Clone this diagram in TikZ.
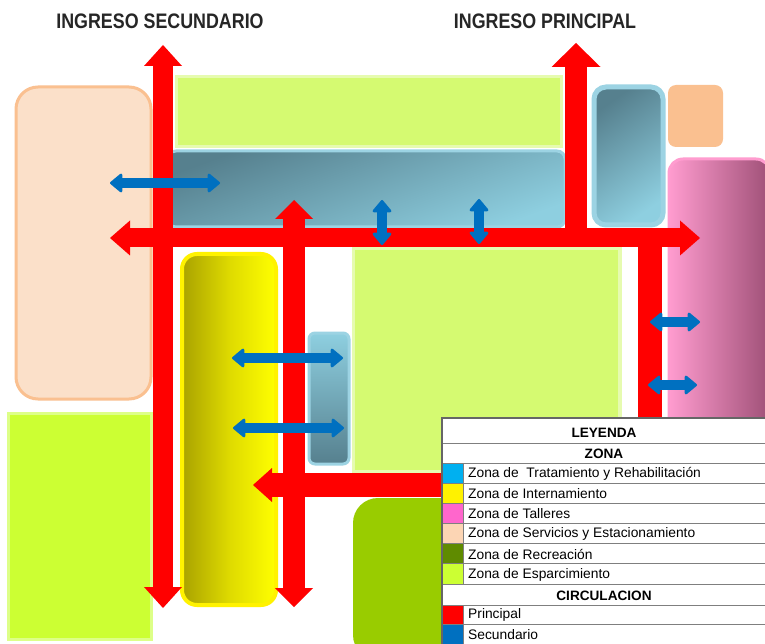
\documentclass[tikz,border=0pt]{standalone}
\usepackage{fontspec}
\setmainfont{Liberation Sans}
\usetikzlibrary{arrows.meta}
\definecolor{peachL}{HTML}{FBE0C9}
\definecolor{peachB}{HTML}{FAC090}
\definecolor{greenL}{HTML}{D5FA71}
\definecolor{greenLh}{HTML}{E6FBB0}
\definecolor{greenB}{HTML}{CCFF33}
\definecolor{greenBh}{HTML}{DDFF88}
\definecolor{greenR}{HTML}{99CC00}
\definecolor{blueDk}{HTML}{56808E}
\definecolor{blueLt}{HTML}{8ECFE0}
\definecolor{blueBd}{HTML}{9CD3E3}
\definecolor{olive}{HTML}{A9A200}
\definecolor{pinkL}{HTML}{FF9CCF}
\definecolor{pinkD}{HTML}{9F5077}
\definecolor{arrblue}{HTML}{0070C0}
\definecolor{lcyan}{HTML}{00B0F0}
\definecolor{lpink}{HTML}{FF66CC}
\definecolor{lpeach}{HTML}{FCD5B4}
\definecolor{ldkgreen}{HTML}{5F8B00}
\definecolor{titlec}{HTML}{262626}
\definecolor{lgray}{HTML}{7F7F7F}
\tikzset{
  title/.style={font=\fontsize{21}{21}\selectfont\bfseries, text=titlec, inner sep=0pt},
  redway/.style={draw=red, line width=20pt, line join=miter},
  barr/.style={draw=arrblue, line width=9.5pt,
     {Triangle[width=21pt,length=13pt,line width=2.5pt,round]}-{Triangle[width=21pt,length=13pt,line width=2.5pt,round]}},
  lhead/.style={font=\fontsize{13.6}{14}\selectfont\bfseries, inner sep=0pt},
  litem/.style={font=\fontsize{13.8}{14}\selectfont, anchor=west, inner sep=0pt},
  lline/.style={draw=lgray, line width=0.8pt},
}
\begin{document}
\begin{tikzpicture}[x=1pt,y=-1pt]
\useasboundingbox (0,0) rectangle (765,644);
\clip (0,0) rectangle (765,644);
\fill[white] (0,0) rectangle (765,644);

% titles
\node[title] (tsec) at (160,21) {\scalebox{0.85}[1]{INGRESO SECUNDARIO}};
\node[title] (tpri) at (545,21) {\scalebox{0.85}[1]{INGRESO PRINCIPAL}};

% esparcimiento zones (soft edges)
\fill[greenLh] (175,75) rectangle (563,148);
\fill[greenL] (178,78) rectangle (560,145);
\fill[greenLh] (352,247) rectangle (622,473);
\fill[greenL] (355,250) rectangle (618,470);
\fill[greenBh] (7,412) rectangle (153,641);
\fill[greenB] (10,415) rectangle (150,638);
% recreacion
\fill[greenR, rounded corners=25pt] (353,498) rectangle (470,660);

% servicios
\filldraw[fill=peachL, draw=peachB, line width=3pt, rounded corners=22pt] (16,87) rectangle (151,399);
\fill[peachB, rounded corners=8pt] (668,85) rectangle (723,147);

% tratamiento
\shadedraw[draw=blueBd, line width=3pt, rounded corners=8pt, top color=blueDk, bottom color=blueLt, shading angle=20] (168,151) rectangle (565,227);
\shadedraw[draw=blueBd, line width=5pt, rounded corners=12pt, top color=blueDk, bottom color=blueLt, shading angle=35] (594,87) rectangle (663,225);
\shadedraw[draw=blueBd, line width=3pt, rounded corners=6pt, top color=blueLt, bottom color=blueDk] (309,333) rectangle (349,464);

% internamiento
\shadedraw[draw=yellow, line width=4pt, rounded corners=15pt, left color=olive, right color=yellow, middle color={rgb,255:red,222;green,218;blue,0}] (182,254) rectangle (276,605);

% talleres
\shadedraw[draw=pinkL, line width=3pt, rounded corners=14pt, left color=pinkL, right color=pinkD] (669,159) rectangle (770,430);

% principal circulation
\coordinate (sTop) at (163,45);
\coordinate (sBot) at (163,608);
\coordinate (hL) at (110,238);
\coordinate (hR) at (700,238);
\coordinate (pTop) at (576,43);
\coordinate (pBase) at (576,238);
\coordinate (cTop) at (294,200);
\coordinate (cBot) at (294,607);
\coordinate (rTop) at (650,238);
\coordinate (rCorner) at (650,485);
\coordinate (rEnd) at (253,485);

\draw[redway, {Triangle[width=38pt,length=21pt,line width=0pt]}-{Triangle[width=38pt,length=21pt,line width=0pt]}] (sTop) -- (sBot);
\draw[redway, line width=19pt, {Triangle[width=35pt,length=20pt,line width=0pt]}-{Triangle[width=35pt,length=20pt,line width=0pt]}] (hL) -- (hR);
\draw[redway, line width=22pt, -{Triangle[width=49pt,length=24pt,line width=0pt]}] (pBase) -- (pTop);
\draw[redway, line width=22pt, {Triangle[width=38pt,length=19pt,line width=0pt]}-{Triangle[width=38pt,length=19pt,line width=0pt]}] (cTop) -- (cBot);
\draw[redway, line width=24pt, -{Triangle[width=34pt,length=19pt,line width=0pt]}] (rTop) -- (rCorner) -- (rEnd);

% secondary circulation
\coordinate (b1a) at (110,183); \coordinate (b1b) at (220,183);
\coordinate (b2a) at (382,200); \coordinate (b2b) at (382,245);
\coordinate (b3a) at (479,199); \coordinate (b3b) at (479,244);
\coordinate (b4a) at (650,322); \coordinate (b4b) at (700,322);
\coordinate (b5a) at (648,385); \coordinate (b5b) at (697,385);
\coordinate (b6a) at (232,358); \coordinate (b6b) at (343,358);
\coordinate (b7a) at (233,428); \coordinate (b7b) at (344,428);
\draw[barr] (b1a) -- (b1b);
\draw[barr] (b2a) -- (b2b);
\draw[barr] (b3a) -- (b3b);
\draw[barr] (b4a) -- (b4b);
\draw[barr] (b5a) -- (b5b);
\draw[barr] (b6a) -- (b6b);
\draw[barr] (b7a) -- (b7b);

% legend
\fill[white] (442,418) rectangle (770,650);
\fill[lcyan] (442,463) rectangle (463,483);
\fill[yellow] (442,483) rectangle (463,503);
\fill[lpink] (442,503) rectangle (463,523);
\fill[lpeach] (442,523) rectangle (463,543);
\fill[ldkgreen] (442,543) rectangle (463,563);
\fill[greenB] (442,563) rectangle (463,584);
\fill[red] (442,605) rectangle (463,624);
\fill[arrblue] (442,624) rectangle (463,650);
\foreach \yy in {443,463,483,503,523,543,563,584,605,624} {
  \draw[lline] (442,\yy) -- (770,\yy);
}
\draw[lline] (463,463) -- (463,584);
\draw[lline] (463,605) -- (463,650);
\draw[draw=lgray!80!black, line width=1.2pt] (442,650) -- (442,418) -- (770,418);

\node[lhead] (lley) at (604,433) {LEYENDA};
\node[lhead] (lzon) at (604,454) {ZONA};
\node[litem] (l1) at (468,474) {Zona de \ Tratamiento y Rehabilitación};
\node[litem] (l2) at (468,494) {Zona de Internamiento};
\node[litem] (l3) at (468,514) {Zona de Talleres};
\node[litem] (l4) at (468,534) {Zona de Servicios y Estacionamiento};
\node[litem] (l5) at (468,554) {Zona de Recreación};
\node[litem] (l6) at (468,574.5) {Zona de Esparcimiento};
\node[lhead] (lcir) at (604,596) {CIRCULACION};
\node[litem] (l7) at (468,615) {Principal};
\node[litem] (l8) at (468,635) {Secundario};
\end{tikzpicture}
\end{document}
